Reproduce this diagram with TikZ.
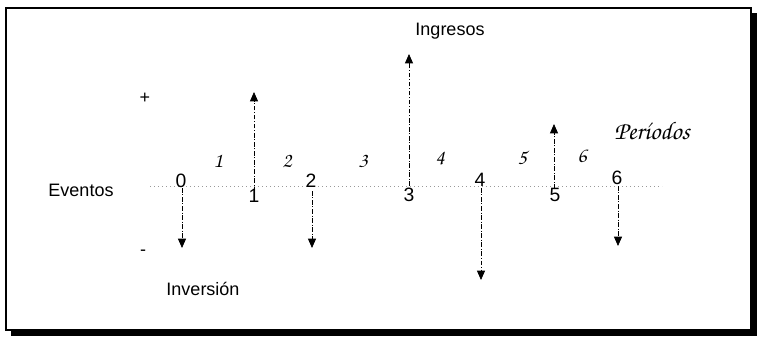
\documentclass[tikz,border=0pt]{standalone}
\usepackage[T1]{fontenc}
\usepackage{fontspec}
\setmainfont{Liberation Sans}
\usetikzlibrary{arrows.meta}
\newcommand{\chancery}{\fontencoding{T1}\fontfamily{pzc}\fontseries{mb}\fontshape{it}\selectfont}

\begin{document}
\begin{tikzpicture}[
    x=0.75pt, y=-0.75pt,
    lbl/.style={font=\fontsize{13.5}{15}\selectfont,inner sep=0pt},
    evt/.style={font=\fontsize{14.5}{16}\selectfont,inner sep=0pt},
    per/.style={font=\chancery\fontsize{16}{18}\selectfont,inner sep=0pt},
    flow/.style={line width=0.65pt,dash pattern=on 3.5pt off 1.3pt on 0.7pt off 1.3pt,
      -{Triangle[length=7pt,width=6pt]}},
    axis/.style={line width=0.7pt,gray!80,dash pattern=on 0.8pt off 2.2pt},
  ]
  \useasboundingbox (0,0) rectangle (758,337);
  % Frame with shadow
  \fill (11,13) rectangle (757,336);
  \filldraw[fill=white,line width=2.2pt] (6,8) rectangle (751,330);
  % Time axis
  \coordinate (ax0) at (150,186);
  \coordinate (ax1) at (662,186);
  \draw[axis] (ax0) -- (ax1);
  % Side labels
  \node[lbl] (eventos) at (81,190) {Eventos};
  \node[lbl] (ingresos) at (450,31) {Ingresos};
  \node[lbl] (inversion) at (203,289) {Inversión};
  \node[lbl] (plus) at (145,98) {+};
  \node[lbl] (minus) at (143,253) {-};
  \node[per,font=\chancery\fontsize{19}{21}\selectfont] (periodos) at (652,131) {Períodos};
  % Events
  \node[evt] (e0) at (181,181) {0};
  \node[evt] (e1) at (254,196) {1};
  \node[evt] (e2) at (311,181) {2};
  \node[evt] (e3) at (409,195) {3};
  \node[evt] (e4) at (480,180) {4};
  \node[evt] (e5) at (555,195) {5};
  \node[evt] (e6) at (617,178) {6};
  % Periods
  \node[per] (p1) at (218,161) {1};
  \node[per] (p2) at (287,161) {2};
  \node[per] (p3) at (363,161) {3};
  \node[per] (p4) at (440,158) {4};
  \node[per] (p5) at (522,158) {5};
  \node[per] (p6) at (582,156) {6};
  % Cash flows
  \coordinate (s0) at (182,188);
  \coordinate (t0) at (182,248);
  \draw[flow] (s0) -- (t0);
  \coordinate (s1) at (254,201);
  \coordinate (t1) at (254,92);
  \draw[flow] (s1) -- (t1);
  \coordinate (s2) at (312,191);
  \coordinate (t2) at (312,248);
  \draw[flow] (s2) -- (t2);
  \coordinate (s3) at (409,186);
  \coordinate (t3) at (409,54);
  \draw[flow] (s3) -- (t3);
  \coordinate (s4) at (481,188);
  \coordinate (t4) at (481,280);
  \draw[flow] (s4) -- (t4);
  \coordinate (s5) at (554,189);
  \coordinate (t5) at (554,124);
  \draw[flow] (s5) -- (t5);
  \coordinate (s6) at (618,186);
  \coordinate (t6) at (618,246);
  \draw[flow] (s6) -- (t6);
\end{tikzpicture}
\end{document}
